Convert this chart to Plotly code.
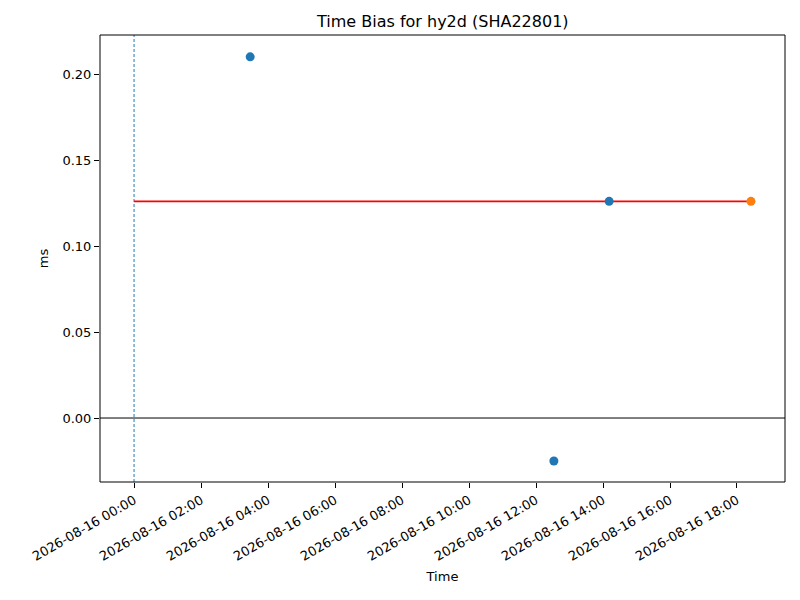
import plotly.graph_objects as go

# bias samples (ms)
obs_times = ['2026-08-16 03:28', '2026-08-16 12:32', '2026-08-16 14:11']
obs_bias = [0.210, -0.025, 0.126]

# latest / predicted point
last_time = ['2026-08-16 18:25']
last_bias = [0.126]

# reference level line
ref_times = ['2026-08-16 00:00', '2026-08-16 18:25']
ref_bias = [0.126, 0.126]

start_time = '2026-08-16 00:00'
tick_vals = ['2026-08-16 %02d:00' % h for h in range(0, 20, 2)]
tick_text = tick_vals

fig = go.Figure()

fig.add_trace(go.Scatter(x=ref_times, y=ref_bias, mode='lines',
                         line=dict(color='red', width=1.8), showlegend=False))
fig.add_trace(go.Scatter(x=obs_times, y=obs_bias, mode='markers',
                         marker=dict(color='#1f77b4', size=9), showlegend=False))
fig.add_trace(go.Scatter(x=last_time, y=last_bias, mode='markers',
                         marker=dict(color='#ff7f0e', size=9), showlegend=False))

# zero line and start marker
fig.add_shape(type='line', xref='paper', yref='y', x0=0, x1=1, y0=0, y1=0,
              line=dict(color='black', width=1), layer='below')
fig.add_shape(type='line', xref='x', yref='paper', x0=start_time, x1=start_time,
              y0=0, y1=1, line=dict(color='#1f77b4', width=1, dash='3px,2px'),
              layer='below')
# axes frame
fig.add_shape(type='rect', xref='paper', yref='paper', x0=0, x1=1, y0=0, y1=1,
              line=dict(color='black', width=1), layer='above')

axis_common = dict(showgrid=False, zeroline=False, showline=False, automargin=False,
                   ticks='outside', ticklen=5, tickcolor='black',
                   tickfont=dict(size=13, color='black'))

fig.update_xaxes(**axis_common, type='date',
                 range=['2026-08-15 22:59', '2026-08-16 19:26'],
                 tickvals=tick_vals, ticktext=tick_text, tickangle=-30,
                 title=dict(text='Time', font=dict(size=13, color='black'), standoff=8))
fig.update_yaxes(**axis_common, range=[-0.0372, 0.2227],
                 tickvals=[0.0, 0.05, 0.10, 0.15, 0.20],
                 ticktext=['0.00', '0.05', '0.10', '0.15', '0.20'],
                 title=dict(text='ms', font=dict(size=13, color='black'), standoff=10))

# page body adds 8px, so the figure is 792x592 with shifted margins
fig.update_layout(
    width=792, height=592,
    title=dict(text='Time Bias for hy2d (SHA22801)', x=0.549, xanchor='center',
               y=0.978, yanchor='middle', font=dict(size=16, color='black')),
    font=dict(family='DejaVu Sans'),
    plot_bgcolor='white', paper_bgcolor='white',
    margin=dict(l=92, r=15, t=27, b=118),
)

fig.write_html("out.html")
